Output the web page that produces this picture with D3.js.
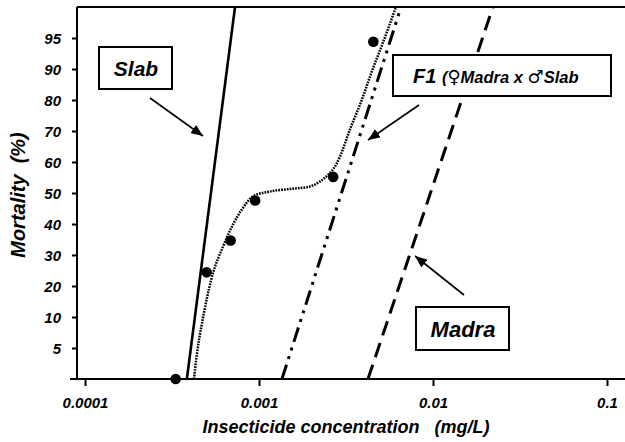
<!DOCTYPE html>
<html>
<head>
<meta charset="utf-8">
<script src="https://cdn.jsdelivr.net/npm/d3@7"></script>
<style>
  body { margin: 0; background: #fff; }
  text { font-family: Arial, "Liberation Sans", sans-serif; font-weight: bold; font-style: italic; fill: #000; }
</style>
</head>
<body>
<div id="chart"></div>
<script>
// tick labels
var concTicks = [0.0001, 0.001, 0.01, 0.1];
var concLabels = ["0.0001", "0.001", "0.01", "0.1"];
var mortTicks = [5, 10, 20, 30, 40, 50, 60, 70, 80, 90, 95];
var mortBreaks = [0, 5, 10, 20, 30, 40, 50, 60, 70, 80, 90, 95, 100];

// probit regression lines (ends at 0% and 100%)
var lineMort = [0, 100];
var slabConc = [0.000385, 0.000728];
var f1Conc = [0.001355, 0.00655];
var madraConc = [0.00423, 0.0221];

// observed F1 mortality
var obsConc = [0.000332, 0.000500, 0.000687, 0.00095, 0.00267, 0.00454];
var obsMort = [0, 24.4, 34.7, 47.6, 55.2, 94.4];

// smoothed fit through F1 data
var fitConc = [0.000423, 0.000452, 0.000545, 0.000621, 0.000700, 0.000798, 0.000924, 0.001156,
  0.001567, 0.001963, 0.002333, 0.002661, 0.002922, 0.003334, 0.003908, 0.004457, 0.005165, 0.006124];
var fitMort = [0, 6.3, 24.3, 32.7, 39.2, 44.7, 48.9, 50.5, 51.4, 52.1, 54.4, 57.6, 61.8, 70.5, 80.2, 89.3, 94.3, 100];

var width = 625, height = 442;
var plotL = 77, plotR = 625, plotT = 7, plotB = 379;

var svg = d3.select("#chart").append("svg")
  .attr("width", width)
  .attr("height", height);

var x = d3.scaleLog()
  .domain([0.0001, 0.1])
  .range([85, 607]);

// evenly spaced mortality ticks
var step = (plotB - plotT) / (mortBreaks.length - 1);
var y = d3.scaleLinear()
  .domain(mortBreaks)
  .range(mortBreaks.map(function(d, i) { return plotB - i * step; }));

svg.append("defs").append("clipPath").attr("id", "plot")
  .append("rect").attr("x", plotL).attr("y", plotT).attr("width", plotR - plotL).attr("height", plotB - plotT);

// frame
svg.append("line").attr("x1", plotL).attr("x2", plotR).attr("y1", plotT).attr("y2", plotT)
  .attr("stroke", "#000").attr("stroke-width", 2);
svg.append("line").attr("x1", plotL).attr("x2", plotL).attr("y1", plotT).attr("y2", plotB)
  .attr("stroke", "#000").attr("stroke-width", 2);
svg.append("line").attr("x1", 70).attr("x2", plotR).attr("y1", plotB).attr("y2", plotB)
  .attr("stroke", "#000").attr("stroke-width", 2);

// X axis
var xAxis = svg.append("g")
  .attr("transform", "translate(0," + plotB + ")")
  .call(d3.axisBottom(x).tickValues(concTicks).tickSize(7)
    .tickFormat(function(d, i) { return concLabels[i]; }));
xAxis.select(".domain").remove();
xAxis.selectAll("line").attr("stroke-width", 2);
xAxis.selectAll("text").attr("y", 29).attr("dy", 0)
  .style("font-size", "15px").attr("font-family", null);

// Y axis
var yAxis = svg.append("g")
  .attr("transform", "translate(" + plotL + ",0)")
  .call(d3.axisLeft(y).tickValues(mortTicks).tickSize(5));
yAxis.select(".domain").remove();
yAxis.selectAll("line").attr("stroke-width", 2);
yAxis.selectAll("text").attr("x", -16).attr("dy", "0.36em")
  .style("font-size", "15px").attr("font-family", null);

// axis titles
svg.append("text")
  .attr("x", 346).attr("y", 433)
  .style("text-anchor", "middle").style("font-size", "18px")
  .text("Insecticide concentration\u00a0\u00a0\u00a0(mg/L)");
svg.append("text")
  .attr("transform", "translate(25,195) rotate(-90)")
  .style("text-anchor", "middle").style("font-size", "20px")
  .text("Mortality\u00a0\u00a0(%)");

var plot = svg.append("g").attr("clip-path", "url(#plot)");

function straight(conc) {
  return d3.line()(conc.map(function(c, i) { return [x(c), y(lineMort[i])]; }));
}

plot.append("path").attr("d", straight(slabConc))
  .attr("fill", "none").attr("stroke", "#000").attr("stroke-width", 2.6);
plot.append("path").attr("d", straight(f1Conc))
  .attr("fill", "none").attr("stroke", "#000").attr("stroke-width", 3)
  .attr("stroke-dasharray", "15,6,3,6,3,6");
plot.append("path").attr("d", straight(madraConc))
  .attr("fill", "none").attr("stroke", "#000").attr("stroke-width", 3)
  .attr("stroke-dasharray", "15,8");

var fitLine = d3.line()
  .x(function(d, i) { return x(fitConc[i]); })
  .y(function(d, i) { return y(fitMort[i]); })
  .curve(d3.curveCatmullRom);
plot.append("path").attr("d", fitLine(fitConc))
  .attr("fill", "none").attr("stroke", "#000").attr("stroke-width", 2.5)
  .attr("stroke-dasharray", "1.7,1.1");

svg.append("g").selectAll("circle")
  .data(obsConc)
  .enter().append("circle")
  .attr("cx", function(d) { return x(d); })
  .attr("cy", function(d, i) { return y(obsMort[i]); })
  .attr("r", 5.3)
  .attr("fill", "#000");

// annotations
svg.append("defs").append("marker")
  .attr("id", "arrow").attr("viewBox", "0 0 12 10")
  .attr("refX", 12).attr("refY", 5)
  .attr("markerWidth", 12).attr("markerHeight", 10)
  .attr("markerUnits", "userSpaceOnUse")
  .attr("orient", "auto")
  .append("path").attr("d", "M0,0L12,5L0,10Z").attr("fill", "#000");

function label(bx, by, bw, bh) {
  svg.append("rect").attr("x", bx).attr("y", by).attr("width", bw).attr("height", bh)
    .attr("fill", "#fff").attr("stroke", "#000").attr("stroke-width", 2);
}
function arrow(x1, y1, x2, y2) {
  svg.append("line").attr("x1", x1).attr("y1", y1).attr("x2", x2).attr("y2", y2)
    .attr("stroke", "#000").attr("stroke-width", 1.6).attr("marker-end", "url(#arrow)");
}

label(99, 47, 73, 42);
svg.append("text").attr("x", 136).attr("y", 76).style("text-anchor", "middle")
  .style("font-size", "21px").text("Slab");
arrow(150, 98, 203, 136);

label(393, 55, 218, 41);
var f1 = svg.append("text").attr("x", 413).attr("y", 83);
f1.append("tspan").style("font-size", "20px").text("F1 ");
f1.append("tspan").style("font-size", "16.5px").text("(");
f1.append("tspan").style("font-size", "18px").style("font-weight", "normal").style("font-style", "normal")
  .attr("font-family", "DejaVu Sans").text("\u2640");
f1.append("tspan").style("font-size", "16.5px").text("Madra x ");
f1.append("tspan").style("font-size", "18px").style("font-weight", "normal").style("font-style", "normal")
  .attr("font-family", "DejaVu Sans").text("\u2642");
f1.append("tspan").style("font-size", "16.5px").text("Slab");
arrow(419, 105, 368, 140);

label(416, 307, 93, 43);
svg.append("text").attr("x", 463).attr("y", 337).style("text-anchor", "middle")
  .style("font-size", "22px").text("Madra");
arrow(464, 295, 415, 256);
</script>
</body>
</html>
